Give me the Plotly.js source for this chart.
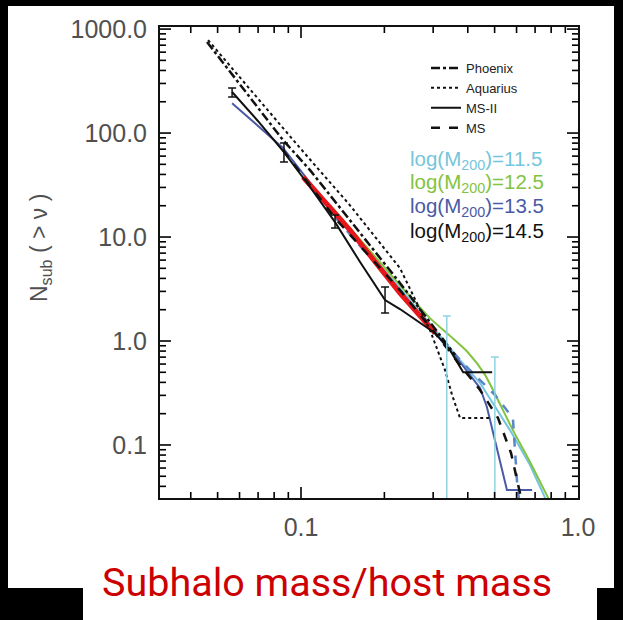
<!DOCTYPE html>
<html><head><meta charset="utf-8">
<script src="https://cdn.plot.ly/plotly-3.0.1.min.js"></script>
<style>html,body{margin:0;padding:0;background:#fff}#chart{width:623px;height:620px}</style>
</head><body><div id="chart"></div>
<script>
// ---- data ----
const phoenixX = [0.0458, 0.0655, 0.0861, 0.1078, 0.150, 0.2276, 0.292, 0.360];
const phoenixY = [750, 217, 85.7, 44.0, 14.6, 3.62, 1.52, 0.733];

const aquariusX = [0.0462, 0.0992, 0.150, 0.2276, 0.292, 0.331, 0.351, 0.375, 0.481];
const aquariusY = [783, 71.8, 20.3, 5.03, 1.28, 0.526, 0.303, 0.182, 0.182];

const msiiX = [0.0564, 0.0700, 0.0868, 0.1078, 0.1327, 0.1634, 0.2011, 0.2276, 0.305, 0.345, 0.385, 0.490];
const msiiY = [248, 130, 65.6, 30.3, 13.9, 5.75, 2.48, 2.03, 1.19, 0.819, 0.5, 0.5];

const errX = [0.0564, 0.0868, 0.1327, 0.2011];
const errY = [248, 65.6, 13.9, 2.48];
const errPlus = [23, 14.6, 2.4, 0.82];
const errMinus = [26, 13, 1.7, 0.62];

const msX = [0.0861, 0.1327, 0.2276, 0.305, 0.375, 0.443, 0.514, 0.573, 0.622];
const msY = [68.7, 15.2, 3.09, 1.19, 0.587, 0.338, 0.182, 0.0838, 0.0316];

const fitX = [0.1017, 0.150, 0.2276, 0.305];
const fitY = [37.8, 11.7, 2.89, 1.19];

const m115X = [0.1273, 0.2276, 0.305, 0.375, 0.443, 0.568, 0.671, 0.765];
const m115Y = [19.0, 3.23, 1.28, 0.656, 0.394, 0.139, 0.0642, 0.030];

const m125X = [0.1273, 0.2276, 0.292, 0.345, 0.400, 0.460, 0.582, 0.671, 0.785];
const m125Y = [20.3, 3.45, 1.66, 1.12, 0.78, 0.48, 0.139, 0.0687, 0.030];

const m135X = [0.0564, 0.0861, 0.1327, 0.2276, 0.305, 0.375, 0.443, 0.469, 0.554, 0.683];
const m135Y = [194, 71.8, 16.3, 3.09, 1.19, 0.628, 0.353, 0.232, 0.0369, 0.0369];

const ms135X = [0.1327, 0.2276, 0.305, 0.407, 0.501, 0.582, 0.603, 0.612];
const ms135Y = [15.5, 3.0, 1.19, 0.526, 0.303, 0.182, 0.0431, 0.030];

const cyanErrX = [0.336, 0.501];
const cyanErrY = [0.95, 0.25];
const cyanErrPlus = [0.79, 0.45];
const cyanErrMinus = [0.949, 0.249];

const yTickVals = [0.1, 1, 10, 100, 1000];
const yTickText = ['0.1', '1.0', '10.0', '100.0', '1000.0'];
const xTickVals = [0.1, 1];
const xTickText = ['0.1', '1.0'];

const xTitle = 'Subhalo mass/host mass';
const yTitle = 'N<sub>sub</sub> ( > ν )';

const massLabels = ['log(M<sub>200</sub>)=11.5', 'log(M<sub>200</sub>)=12.5',
                    'log(M<sub>200</sub>)=13.5', 'log(M<sub>200</sub>)=14.5'];
const massColors = ['#74c6dc', '#82c341', '#4b5aa6', '#111111'];

// ---- axis ranges (log10) ----
const XR = [-1.509, 0], YR = [-1.51, 3.02];

// ---- geometry helpers (pixel -> paper) ----
const W = 623, H = 620, L = 160, R = 45, T = 27, B = 122;
const PW = W - L - R, PH = H - T - B;
const px = x => (x - L) / PW;
const py = y => (H - B - y) / PH;

// ---- inside tick marks on all four sides: decades long, 2..9 short ----
function tickSet(range) {
  const out = [];
  for (let e = Math.floor(range[0]); e <= Math.ceil(range[1]); e++) for (let k = 1; k <= 9; k++) {
    const t = k * Math.pow(10, e), l = Math.log10(t);
    if (l > range[0] + 1e-6 && l < range[1] - 1e-6) out.push({v: t, len: k === 1 ? 11 : 6});
  }
  return out;
}
const tickShapes = [];
tickSet(XR).forEach(t => {
  [[0, t.len / PH], [1, 1 - t.len / PH]].forEach(([a, b]) => tickShapes.push({
    type: 'line', xref: 'x', yref: 'paper', x0: t.v, x1: t.v, y0: a, y1: b,
    line: {color: '#000', width: 1.6}, layer: 'above'}));
});
tickSet(YR).forEach(t => {
  [[0, t.len / PW], [1, 1 - t.len / PW]].forEach(([a, b]) => tickShapes.push({
    type: 'line', xref: 'paper', yref: 'y', x0: a, x1: b, y0: t.v, y1: t.v,
    line: {color: '#000', width: 1.6}, layer: 'above'}));
});

const traces = [
  {x: m115X, y: m115Y, mode: 'lines', line: {color: massColors[0], width: 2}, showlegend: false},
  {x: m125X, y: m125Y, mode: 'lines', line: {color: massColors[1], width: 2, shape: 'spline', smoothing: 0.6}, showlegend: false},
  {x: ms135X, y: ms135Y, mode: 'lines', line: {color: '#5a86c8', width: 2.5, dash: 'dash'}, showlegend: false},
  {x: m135X, y: m135Y, mode: 'lines', line: {color: massColors[2], width: 2}, showlegend: false},
  {x: fitX, y: fitY, mode: 'lines', line: {color: '#e8161b', width: 5}, showlegend: false},
  {x: phoenixX, y: phoenixY, mode: 'lines', name: 'Phoenix', legendrank: 1,
   line: {color: '#111', width: 2.5, dash: 'dashdot'}},
  {x: aquariusX, y: aquariusY, mode: 'lines', name: 'Aquarius', legendrank: 2,
   line: {color: '#111', width: 2, dash: 'dot'}},
  {x: msiiX, y: msiiY, mode: 'lines', name: 'MS-II', legendrank: 3,
   line: {color: '#111', width: 2}},
  {x: msX, y: msY, mode: 'lines', name: 'MS', legendrank: 4,
   line: {color: '#111', width: 2.5, dash: 'dash'}},
  {x: errX, y: errY, mode: 'markers', marker: {size: 1, opacity: 0}, showlegend: false,
   error_y: {type: 'data', symmetric: false, array: errPlus, arrayminus: errMinus,
             color: '#111', thickness: 1.5, width: 4}},
  {x: cyanErrX, y: cyanErrY, mode: 'markers', marker: {size: 1, opacity: 0}, showlegend: false,
   error_y: {type: 'data', symmetric: false, array: cyanErrPlus, arrayminus: cyanErrMinus,
             color: '#8fd3e3', thickness: 1.5, width: 4}}
];

const axisCommon = {
  type: 'log', showgrid: false, zeroline: false, showline: true, linecolor: '#111', linewidth: 2,
  mirror: true, ticks: '', layer: 'above traces',
  tickfont: {family: 'Liberation Sans, Arial, sans-serif', size: 25, color: '#505050'}
};

const frameShapes = [
  [0, 0, 623, 6], [0, 0, 8, 620], [614, 0, 623, 620], [0, 588, 83, 620], [597, 588, 623, 620]
].map(r => ({type: 'rect', xref: 'paper', yref: 'paper', x0: px(r[0]), x1: px(r[2]),
             y0: py(r[3]), y1: py(r[1]), fillcolor: '#000', line: {width: 0}, layer: 'above'}));

const annRows = [160, 183, 207, 232];
const annotations = massLabels.map((t, i) => ({
  text: t, xref: 'paper', yref: 'paper', x: px(408), y: py(annRows[i]), xanchor: 'left', yanchor: 'middle',
  showarrow: false, font: {family: 'Liberation Sans, Arial, sans-serif', size: 20.5, color: massColors[i]}
}));
annotations.push({
  text: xTitle, xref: 'paper', yref: 'paper', x: px(327), y: py(582), xanchor: 'center', yanchor: 'middle',
  showarrow: false, font: {family: 'Roboto, Liberation Sans, sans-serif', size: 39.5, color: '#cc0000'}
});
annotations.push({
  text: yTitle, xref: 'paper', yref: 'paper', x: px(40), y: py(248), xanchor: 'center', yanchor: 'middle',
  textangle: -90, showarrow: false, font: {family: 'Liberation Sans, Arial, sans-serif', size: 23, color: '#505050'}
});

const layout = {
  width: W, height: H, margin: {l: L, r: R, t: T, b: B},
  paper_bgcolor: '#fff', plot_bgcolor: '#fff',
  showlegend: true,
  legend: {x: px(426), y: py(53), xanchor: 'left', yanchor: 'top', bgcolor: 'rgba(0,0,0,0)',
           tracegroupgap: 0,
           font: {family: 'Liberation Sans, Arial, sans-serif', size: 13, color: '#222'}},
  xaxis: Object.assign({}, axisCommon, {
    range: XR, tickmode: 'array', tickvals: xTickVals, ticktext: xTickText, ticklabelstandoff: 6
  }),
  yaxis: Object.assign({}, axisCommon, {
    range: YR, tickmode: 'array', tickvals: yTickVals, ticktext: yTickText, ticklabelstandoff: 6
  }),
  shapes: frameShapes.concat(tickShapes),
  annotations: annotations
};

Plotly.newPlot('chart', traces, layout, {displayModeBar: false, staticPlot: true});
</script>
</body></html>
